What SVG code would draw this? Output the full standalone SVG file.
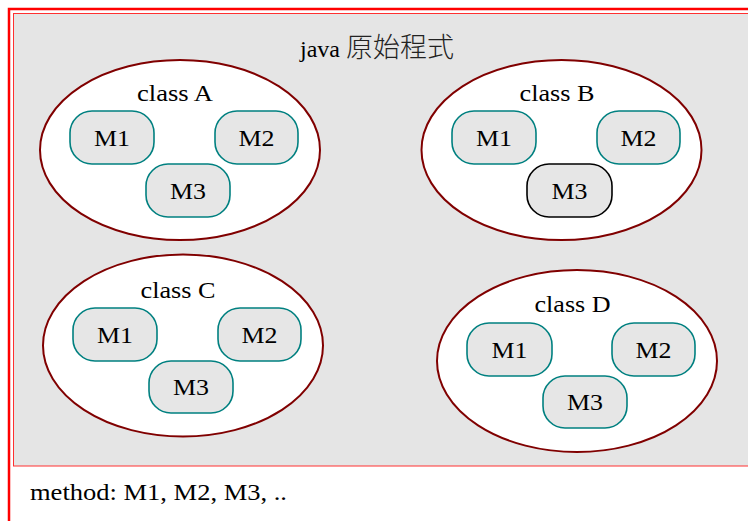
<svg xmlns="http://www.w3.org/2000/svg" width="748" height="521" viewBox="0 0 748 521">
  <style>
    .txt { font-family: "Liberation Serif", "Noto Sans CJK TC", serif; font-size: 24px; fill: #000; }
    .cjk { font-family: "Noto Sans CJK TC", sans-serif; font-size: 27px; font-weight: 300; fill: #222; }
    .cls { fill: #ffffff; stroke: #800000; stroke-width: 2; }
    .m { fill: #e6e6e6; stroke: #008080; stroke-width: 1.6; }
    .m.hot { stroke: #000000; }
  </style>
  <rect width="748" height="521" fill="#ffffff"/>
  <!-- outer frame -->
  <rect x="9" y="9" width="760" height="530" fill="none" stroke="#ff0000" stroke-width="2.5"/>
  <!-- program area -->
  <rect x="13.5" y="13.5" width="760" height="452.5" fill="#e5e5e5" stroke="#ff3030" stroke-width="1"/>
  <text class="txt" x="377" y="57" text-anchor="middle">java <tspan class="cjk">原始程式</tspan></text>

  <g id="classA">
    <ellipse class="cls" cx="180" cy="150" rx="140" ry="90"/>
    <text class="txt" x="175" y="101" text-anchor="middle" textLength="76" lengthAdjust="spacingAndGlyphs">class A</text>
    <g id="classA-M1"><rect class="m" x="70" y="111" width="84" height="53" rx="22"/><text class="txt" x="112" y="146" text-anchor="middle" textLength="36" lengthAdjust="spacingAndGlyphs">M1</text></g>
    <g id="classA-M2"><rect class="m" x="215" y="111" width="83" height="53" rx="22"/><text class="txt" x="256.5" y="146" text-anchor="middle" textLength="36" lengthAdjust="spacingAndGlyphs">M2</text></g>
    <g id="classA-M3"><rect class="m" x="146" y="164" width="84" height="53" rx="22"/><text class="txt" x="188" y="199" text-anchor="middle" textLength="36" lengthAdjust="spacingAndGlyphs">M3</text></g>
  </g>

  <g id="classB">
    <ellipse class="cls" cx="561.5" cy="150" rx="140" ry="90"/>
    <text class="txt" x="557" y="101" text-anchor="middle" textLength="75" lengthAdjust="spacingAndGlyphs">class B</text>
    <g id="classB-M1"><rect class="m" x="452" y="111" width="84" height="53" rx="22"/><text class="txt" x="494" y="146" text-anchor="middle" textLength="36" lengthAdjust="spacingAndGlyphs">M1</text></g>
    <g id="classB-M2"><rect class="m" x="597" y="111" width="83" height="53" rx="22"/><text class="txt" x="638.5" y="146" text-anchor="middle" textLength="36" lengthAdjust="spacingAndGlyphs">M2</text></g>
    <g id="classB-M3"><rect class="m hot" x="527" y="164" width="85" height="53" rx="22"/><text class="txt" x="569.5" y="199" text-anchor="middle" textLength="36" lengthAdjust="spacingAndGlyphs">M3</text></g>
  </g>

  <g id="classC">
    <ellipse class="cls" cx="183" cy="345.5" rx="140" ry="91"/>
    <text class="txt" x="178" y="298" text-anchor="middle" textLength="75" lengthAdjust="spacingAndGlyphs">class C</text>
    <g id="classC-M1"><rect class="m" x="73" y="308" width="84" height="53" rx="22"/><text class="txt" x="115" y="343" text-anchor="middle" textLength="36" lengthAdjust="spacingAndGlyphs">M1</text></g>
    <g id="classC-M2"><rect class="m" x="218" y="308" width="83" height="53" rx="22"/><text class="txt" x="259.5" y="343" text-anchor="middle" textLength="36" lengthAdjust="spacingAndGlyphs">M2</text></g>
    <g id="classC-M3"><rect class="m" x="149" y="361" width="84" height="52" rx="22"/><text class="txt" x="191" y="395" text-anchor="middle" textLength="36" lengthAdjust="spacingAndGlyphs">M3</text></g>
  </g>

  <g id="classD">
    <ellipse class="cls" cx="577" cy="361" rx="140" ry="91"/>
    <text class="txt" x="572.5" y="312" text-anchor="middle" textLength="76" lengthAdjust="spacingAndGlyphs">class D</text>
    <g id="classD-M1"><rect class="m" x="467" y="323" width="85" height="53" rx="22"/><text class="txt" x="509.5" y="358" text-anchor="middle" textLength="36" lengthAdjust="spacingAndGlyphs">M1</text></g>
    <g id="classD-M2"><rect class="m" x="612" y="323" width="83" height="53" rx="22"/><text class="txt" x="653.5" y="358" text-anchor="middle" textLength="36" lengthAdjust="spacingAndGlyphs">M2</text></g>
    <g id="classD-M3"><rect class="m" x="543" y="376" width="84" height="52" rx="22"/><text class="txt" x="585" y="410" text-anchor="middle" textLength="36" lengthAdjust="spacingAndGlyphs">M3</text></g>
  </g>

  <g id="connectors"></g>

  <text class="txt" x="30" y="500" textLength="257" lengthAdjust="spacingAndGlyphs">method: M1, M2, M3, ..</text>
</svg>
